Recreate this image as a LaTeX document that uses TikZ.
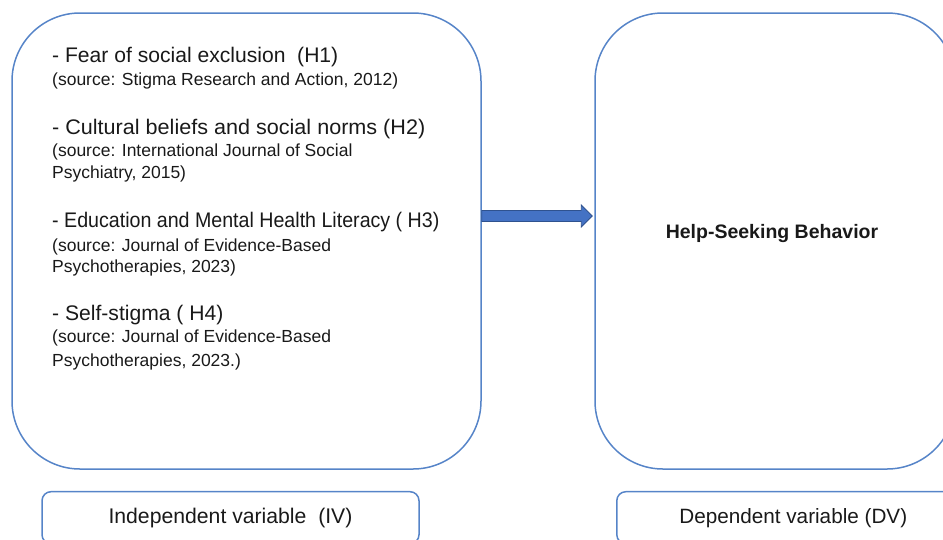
\documentclass[tikz,border=0pt]{standalone}
\usepackage{fontspec}
\setmainfont{Liberation Sans}
\usetikzlibrary{calc}
\definecolor{boxblue}{RGB}{86,132,200}
\definecolor{arrowfill}{RGB}{68,114,196}
\definecolor{arrowdraw}{RGB}{47,82,143}
\definecolor{txt}{RGB}{25,25,25}
\begin{document}
\begin{tikzpicture}[x=1pt,y=-1pt,
  bigbox/.style={draw=boxblue, line width=1.5pt, rounded corners=68pt, minimum width=#1, minimum height=456pt, inner sep=0pt},
  smallbox/.style={draw=boxblue, line width=1.5pt, rounded corners=9pt, minimum width=#1, minimum height=52pt, inner sep=0pt, text=txt},
  title/.style={anchor=base west, inner sep=0pt, text=txt, font=\fontsize{21.1}{24}\selectfont},
  src/.style={anchor=base west, inner sep=0pt, text=txt, font=\fontsize{17.5}{20}\selectfont},
  arrowshape/.style={draw=arrowdraw, fill=arrowfill, line width=0.8pt, line join=miter}
]
\useasboundingbox (0,0) rectangle (943,539);
\clip (0,0) rectangle (943,539);

% big boxes
\node[bigbox=469pt] (L) at (246.5,241) {};
\node[bigbox=360pt] (R) at (775,241) {};

% left box text
\node[title] (h1) at (52,62.3) {- Fear of social exclusion\ \ (H1)};
\node[src] (s1) at (52,85.6) {(source: Stigma Research and Action, 2012)};
\node[title] (h2) at (52,134.3) {\scalebox{1.023}[1]{- Cultural beliefs and social norms (H2)}};
\node[src] (s2a) at (52,156.1) {(source: International Journal of Social};
\node[src] (s2b) at (52,178.1) {Psychiatry, 2015)};
\node[title] (h3) at (52,227.3) {\scalebox{0.93}[1]{- Education and Mental Health Literacy ( H3)}};
\node[src] (s3a) at (52,251.1) {(source: Journal of Evidence-Based};
\node[src] (s3b) at (52,272.8) {Psychotherapies, 2023)};
\node[title] (h4) at (52,320.3) {- Self-stigma ( H4)};
\node[src] (s4a) at (52,342.8) {(source: Journal of Evidence-Based};
\node[src] (s4b) at (52,366.1) {Psychotherapies, 2023.)};

% right box text
\node[inner sep=0pt, text=txt, font=\fontsize{19.5}{23}\selectfont\bfseries] (hs) at (772,233) {Help-Seeking Behavior};

% bottom labels
\node[smallbox=377pt, font=\fontsize{21.2}{24}\selectfont] (iv) at (230.5,517.7) {Independent variable\ \ (IV)};
\node[smallbox=353pt, font=\fontsize{20.7}{24}\selectfont] (dv) at (793.3,517.7) {Dependent variable (DV)};

% block arrow
\coordinate (ay) at (0,216);
\coordinate (as) at (L.east |- ay);
\coordinate (ae) at ($(R.west |- ay)+(-2,0)$);
\draw[arrowshape] ($(as)+(0,-5.5)$) -- ($(ae)+(-11,-5.5)$) -- ($(ae)+(-11,-11)$) -- (ae)
  -- ($(ae)+(-11,11)$) -- ($(ae)+(-11,5.5)$) -- ($(as)+(0,5.5)$) -- cycle;
\end{tikzpicture}
\end{document}
